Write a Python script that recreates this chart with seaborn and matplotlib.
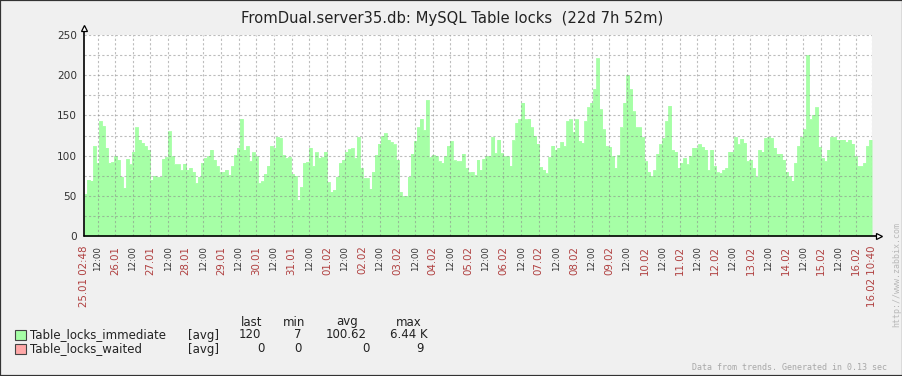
import numpy as np
import matplotlib
matplotlib.use("Agg")
import matplotlib.pyplot as plt
from matplotlib.patches import Rectangle
import seaborn as sns

# ---------------- data ----------------
title = "FromDual.server35.db: MySQL Table locks  (22d 7h 52m)"
span_hours = 22 * 24 + 7 + 52 / 60.0   # 25.01 02:48 -> 16.02 10:40

immediate = [
    52.5, 70, 69, 112, 91, 143, 137, 110, 91, 92, 99, 95, 74, 60, 96, 89, 105, 135, 120, 116,
    112, 107.5, 70, 75, 73, 74, 96, 98, 130, 99, 89, 89, 82, 90, 82.5, 85, 80, 66, 74, 91,
    97, 99, 107.5, 95, 87, 79, 80, 82.5, 76, 87, 101, 110, 146, 107.5, 112, 93, 104, 99, 66, 68,
    77.5, 87.5, 112, 110, 123, 122,
    101, 97, 98, 77.5, 75, 45, 61, 91, 92, 110, 87, 104, 97, 98, 105, 67, 55, 57.5, 74, 91,
    95, 105, 108, 109, 97, 123, 85, 72, 72, 59, 80, 101, 115, 124, 128, 120, 117, 114, 95, 55,
    50, 50, 74, 102.5, 118, 135, 146, 132, 169, 98, 101, 100, 93, 91, 99, 112, 118, 94, 93, 93,
    102.5, 85, 79, 80, 76, 95,
    82.5, 96, 100, 99, 123, 103, 120, 103, 99, 99, 87.5, 119, 141, 145, 166, 145, 146, 135, 125, 115,
    86, 82.5, 78, 98, 112.5, 107.5, 110, 117, 112, 143, 145, 129, 145, 118, 116, 143, 160, 166, 183, 221,
    157.5, 132.5, 112, 111, 99, 85, 101, 135, 166, 200, 182.5, 155, 135, 135, 123, 93, 80, 75, 82, 102.5,
    114, 122, 143, 162, 107,
    105, 85, 91, 97, 89, 100, 110, 110, 114, 111, 107.5, 82, 107.5, 87, 79, 78, 82.5, 85, 105, 105,
    123, 114, 121, 116, 93, 95, 85, 74, 107, 105, 122, 123, 122, 110, 102.5, 102.5, 95, 80, 75, 69,
    91, 112, 123, 132.5, 225, 145, 151, 160, 111, 97, 93, 107.5, 123, 123, 120, 120, 120, 117, 120, 115,
    99, 87, 87, 91, 112, 120,
]
waited = [0] * len(immediate)

start_label = "25.01 02:48"
end_label = "16.02 10:40"
date_labels = ["26.01", "27.01", "28.01", "29.01", "30.01", "31.01", "01.02", "02.02",
               "03.02", "04.02", "05.02", "06.02", "07.02", "08.02", "09.02", "10.02",
               "11.02", "12.02", "13.02", "14.02", "15.02", "16.02"]
half_labels = ["12:00"] * 22
y_ticks = [0, 50, 100, 150, 200, 250]

legend_names = ["Table_locks_immediate", "Table_locks_waited"]
legend_func = ["[avg]", "[avg]"]
legend_last = ["120", "0"]
legend_min = ["7", "0"]
legend_avg = ["100.62", "0"]
legend_max = ["6.44 K", "9"]
footer = "Data from trends. Generated in 0.13 sec"
url = "http://www.zabbix.com"

# ---------------- style ----------------
sns.set_style("white")
plt.rcParams["font.family"] = ["DejaVu Sans"]

W, H = 903, 376
BG = "#F0F0F0"
GREEN = "#A6FFA6"
RED = "#FFA8A8"
DATE_RED = "#B04040"
TXT = "#222222"

fig = plt.figure(figsize=(W / 100, H / 100), dpi=100, facecolor=BG)

L, R, T, B = 84, 872, 35, 236
ax = fig.add_axes([L / W, 1 - B / H, (R - L) / W, (B - T) / H])
ax.set_facecolor("white")

n = len(immediate)
step = span_hours / n
t = np.arange(n + 1) * step
y1 = np.append(immediate, immediate[-1])
y2 = np.append(waited, waited[-1])

ax.fill_between(t, y1, step="post", color=GREEN, linewidth=0, zorder=1)
sns.lineplot(x=t, y=y1, drawstyle="steps-post", color=GREEN, linewidth=0.6,
             estimator=None, ax=ax, zorder=1)
ax.fill_between(t, y2, step="post", color=RED, linewidth=0, zorder=1)

ax.set_xlim(0, span_hours)
ax.set_ylim(0, 250)

# x ticks
first_half = 9.2          # 25.01 12:00
first_day = 21.2          # 26.01 00:00
half_pos = [first_half + 24 * k for k in range(len(half_labels))]
day_pos = [first_day + 24 * k for k in range(len(date_labels))]
pos = [0.0] + half_pos + day_pos + [span_hours]
labs = [start_label] + half_labels + date_labels + [end_label]
kinds = ["d"] + ["h"] * len(half_labels) + ["d"] * len(date_labels) + ["d"]
order = np.argsort(pos, kind="stable")
pos = [pos[i] for i in order]
labs = [labs[i] for i in order]
kinds = [kinds[i] for i in order]
ax.set_xticks(pos)
ax.set_xticklabels(labs, rotation=90)
for lbl, k in zip(ax.get_xticklabels(), kinds):
    if k == "d":
        lbl.set_color(DATE_RED)
        lbl.set_fontsize(7.4)
    else:
        lbl.set_color("#333333")
        lbl.set_fontsize(6.2)
ax.tick_params(axis="x", length=0, pad=7)

ax.set_yticks(y_ticks)
ax.set_yticks([25, 75, 125, 175, 225], minor=True)
ax.tick_params(axis="y", length=0, pad=5, labelsize=7.6, labelcolor="#333333")
ax.tick_params(axis="y", which="minor", length=0)

# grid (drawn over fill, as in the reference)
for p in pos[1:]:
    ax.axvline(p, color="#888888", alpha=0.55, lw=0.8, ls=(0, (2, 2)), zorder=3)
for v in range(25, 251, 25):
    ax.axhline(v, color="#888888", alpha=0.55, lw=0.8, ls=(0, (2, 2)), zorder=3)

for s in ax.spines.values():
    s.set_visible(False)

# axes with arrows
ax.plot([0, 0], [0, 1 + 5 / (B - T)], transform=ax.transAxes, color="black",
        lw=1.2, clip_on=False, zorder=5)
ax.plot([0, 1 + 4 / (R - L)], [0, 0], transform=ax.transAxes, color="black",
        lw=1.2, clip_on=False, zorder=5)
ax.plot([0], [1 + 7 / (B - T)], transform=ax.transAxes, marker="^", ms=5,
        mfc="white", mec="black", mew=0.9, clip_on=False, zorder=6)
ax.plot([1 + 7 / (R - L)], [0], transform=ax.transAxes, marker=">", ms=5,
        mfc="white", mec="black", mew=0.9, clip_on=False, zorder=6)


def fx(x):
    return x / W


def fy(y):
    return 1 - y / H


fig.text(fx(452), fy(19), title, ha="center", va="center", fontsize=10.6, color=TXT)

# legend
hdr_y = 322
rows_y = [335, 349]
fig.text(fx(262), fy(hdr_y), "last", ha="right", va="center", fontsize=8.5, color=TXT)
fig.text(fx(305), fy(hdr_y), "min", ha="right", va="center", fontsize=8.5, color=TXT)
fig.text(fx(358), fy(hdr_y), "avg", ha="right", va="center", fontsize=8.5, color=TXT)
fig.text(fx(422), fy(hdr_y), "max", ha="right", va="center", fontsize=8.5, color=TXT)
cols = [(legend_last, [261, 265]), (legend_min, [302, 302]),
        (legend_avg, [367, 370]), (legend_max, [428, 424])]
for i, (name, colr) in enumerate(zip(legend_names, [GREEN, RED])):
    yy = rows_y[i]
    fig.patches.append(Rectangle((fx(15), fy(yy + 5)), 11 / W, 10 / H,
                                 transform=fig.transFigure, facecolor=colr,
                                 edgecolor="#444444", lw=0.8))
    fig.text(fx(30), fy(yy), name, ha="left", va="center", fontsize=8.5, color=TXT)
    fig.text(fx(188), fy(yy), legend_func[i], ha="left", va="center", fontsize=8.5, color=TXT)
    for vals, xs in cols:
        fig.text(fx(xs[i]), fy(yy), vals[i], ha="right", va="center", fontsize=8.5, color=TXT)

fig.text(fx(887), fy(368), footer, ha="right", va="center", fontsize=6,
         family="DejaVu Sans Mono", color="#A8A8A8")
fig.text(fx(897), fy(327), url, ha="center", va="bottom", rotation=90, fontsize=6,
         family="DejaVu Sans Mono", color="#B8B8B8")

fig.patches.append(Rectangle((0, 0), 1, 1, transform=fig.transFigure, fill=False,
                             edgecolor="#333333", lw=1.6))

fig.savefig("out.png", dpi=100, facecolor=BG)
